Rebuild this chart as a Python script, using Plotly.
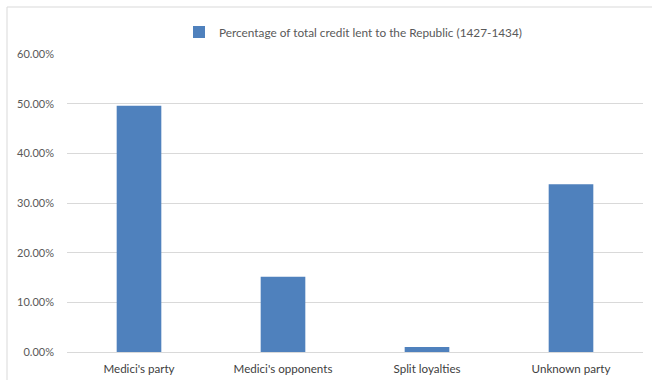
import plotly.graph_objects as go

categories = ["Medici's party", "Medici's opponents", "Split loyalties", "Unknown party"]
values = [0.496, 0.1515, 0.010, 0.338]
series_name = "Percentage of total credit lent to the Republic (1427-1434)"
y_ticks = [0, 0.1, 0.2, 0.3, 0.4, 0.5, 0.6]

W, H = 652, 380
L, R, T, B = 67, 9, 54, 28
pw, ph = W - L - R, H - T - B

def px_x(p):
    return (p - L) / pw

def px_y(p):
    return (H - B - p) / ph

fig = go.Figure()
fig.add_trace(go.Bar(
    x=categories, y=values, name=series_name,
    marker=dict(color="#4F81BD", line=dict(width=0)),
    showlegend=True,
))

fig.update_layout(
    width=W, height=H,
    margin=dict(l=L, r=R, t=T, b=B, autoexpand=False),
    paper_bgcolor="white", plot_bgcolor="white",
    font=dict(family="Lato, Carlito, sans-serif", size=11, color="#595959"),
    bargap=0.69,
    showlegend=True,
    legend=dict(
        orientation="h", x=px_x(179), xanchor="left", y=px_y(32), yanchor="middle",
        font=dict(size=11.8, color="#595959"), bgcolor="rgba(0,0,0,0)",
    ),
    xaxis=dict(
        showgrid=False, showline=False, zeroline=False, ticks="",
        tickfont=dict(size=11.6, color="#404040"),
        ticklabelstandoff=8,
    ),
    yaxis=dict(
        range=[0, 0.6], tickvals=y_ticks, tickformat=".2%",
        showgrid=True, gridcolor="#d9d9d9", gridwidth=1,
        zeroline=True, zerolinecolor="#d9d9d9", zerolinewidth=1,
        showline=False, ticks="", ticklabelstandoff=12,
        tickfont=dict(size=11, color="#595959"),
    ),
    shapes=[
        dict(type="rect", xref="paper", yref="paper",
             x0=px_x(7), x1=px_x(W + 20), y0=px_y(H + 20), y1=px_y(7),
             line=dict(color="#d9d9d9", width=1), fillcolor="rgba(0,0,0,0)",
             layer="below"),
    ],
)

fig.write_html(
    "out.html",
    config={"displayModeBar": False},
    post_script="document.body.style.margin='0';document.body.style.overflow='hidden';",
)
